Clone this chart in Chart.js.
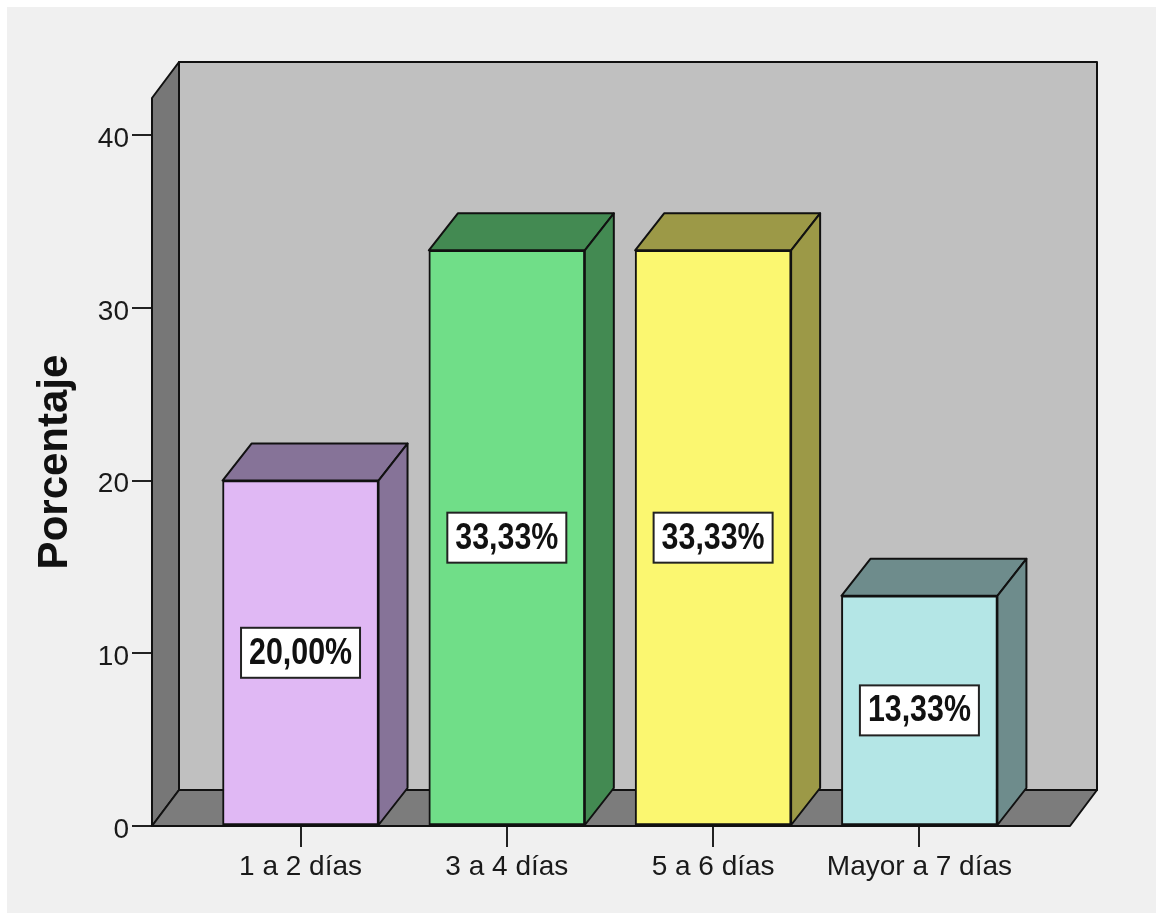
<!DOCTYPE html>
<html>
<head>
<meta charset="utf-8">
<script src="https://cdn.jsdelivr.net/npm/chart.js@4"></script>
<style>
  html, body { margin: 0; padding: 0; background: #ffffff; }
  #wrap { width: 1161px; height: 918px; }
</style>
</head>
<body>
<div id="wrap"><canvas id="myBarChart" width="1161" height="918"></canvas></div>
<script>
// datos del gráfico
const categorias = ['1 a 2 días', '3 a 4 días', '5 a 6 días', 'Mayor a 7 días'];
const porcentajes = [20.00, 33.33, 33.33, 13.33];
const etiquetas = ['20,00%', '33,33%', '33,33%', '13,33%'];
const marcasY = [0, 10, 20, 30, 40];

// colores de cada barra (cara frontal / caras laterales)
const coloresFrente = ['#e0b8f4', '#70de88', '#fbf770', '#b4e6e6'];
const coloresLado = ['#867398', '#438a52', '#9c9947', '#6e8c8c'];

const fuente = '"Liberation Sans", Arial, sans-serif';

// profundidad 3D
const PAR_DX = 27, PAR_DY = -36;   // paredes
const BAR_DX = 29, BAR_DY = -37;   // barras

function poligono(ctx, pts, relleno) {
    ctx.beginPath();
    ctx.moveTo(pts[0][0], pts[0][1]);
    for (let i = 1; i < pts.length; i++) ctx.lineTo(pts[i][0], pts[i][1]);
    ctx.closePath();
    ctx.fillStyle = relleno;
    ctx.fill();
    ctx.lineWidth = 2;
    ctx.lineJoin = 'round';
    ctx.strokeStyle = '#111111';
    ctx.stroke();
}

// fondo, paredes, suelo y caras 3D de las barras
const plugin3D = {
    id: 'plugin3D',
    beforeDraw(chart) {
        const ctx = chart.ctx;
        ctx.save();
        ctx.fillStyle = '#ffffff';
        ctx.fillRect(0, 0, chart.width, chart.height);
        ctx.fillStyle = '#f0f0f0';
        ctx.fillRect(7, 7, chart.width - 12, chart.height - 12);
        ctx.restore();
    },
    beforeDatasetsDraw(chart) {
        const ctx = chart.ctx;
        const a = chart.chartArea;
        ctx.save();
        // pared del fondo
        poligono(ctx, [
            [a.left + PAR_DX, a.top + PAR_DY], [a.right + PAR_DX, a.top + PAR_DY],
            [a.right + PAR_DX, a.bottom + PAR_DY], [a.left + PAR_DX, a.bottom + PAR_DY]
        ], '#c0c0c0');
        // pared lateral
        poligono(ctx, [
            [a.left, a.top], [a.left + PAR_DX, a.top + PAR_DY],
            [a.left + PAR_DX, a.bottom + PAR_DY], [a.left, a.bottom]
        ], '#777777');
        // suelo
        poligono(ctx, [
            [a.left, a.bottom], [a.right, a.bottom],
            [a.right + PAR_DX, a.bottom + PAR_DY], [a.left + PAR_DX, a.bottom + PAR_DY]
        ], '#7c7c7c');

        // caras superior y derecha de cada barra
        chart.getDatasetMeta(0).data.forEach(function (bar, i) {
            const l = bar.x - bar.width / 2, r = bar.x + bar.width / 2;
            const t = bar.y, b = bar.base;
            poligono(ctx, [[l, t], [r, t], [r + BAR_DX, t + BAR_DY], [l + BAR_DX, t + BAR_DY]], coloresLado[i]);
            poligono(ctx, [[r, t], [r + BAR_DX, t + BAR_DY], [r + BAR_DX, b + BAR_DY], [r, b]], coloresLado[i]);
        });
        ctx.restore();
    },
    afterDatasetsDraw(chart) {
        // etiquetas de porcentaje en el centro de cada barra
        const ctx = chart.ctx;
        ctx.save();
        chart.getDatasetMeta(0).data.forEach(function (bar, i) {
            const cy = (bar.y + bar.base) / 2;
            const w = 119, h = 50;
            ctx.fillStyle = '#ffffff';
            ctx.fillRect(bar.x - w / 2, cy - h / 2, w, h);
            ctx.lineWidth = 2;
            ctx.strokeStyle = '#222222';
            ctx.strokeRect(bar.x - w / 2, cy - h / 2, w, h);

            ctx.font = 'bold 36px ' + fuente;
            const ancho = ctx.measureText(etiquetas[i]).width;
            const esc = 103 / ancho;
            ctx.translate(bar.x, cy + 1);
            ctx.scale(esc, 1);
            ctx.fillStyle = '#111111';
            ctx.textAlign = 'center';
            ctx.textBaseline = 'middle';
            ctx.fillText(etiquetas[i], 0, 0);
            ctx.setTransform(1, 0, 0, 1, 0, 0);
        });
        ctx.restore();
    }
};

window.onload = function () {
    const ctx = document.getElementById('myBarChart').getContext('2d');
    new Chart(ctx, {
        type: 'bar',
        data: {
            datasets: [{
                data: porcentajes.map(function (v, i) { return { x: i, y: v }; }),
                backgroundColor: coloresFrente,
                borderColor: '#111111',
                borderWidth: 2,
                borderSkipped: false,
                barThickness: 156,
                clip: false
            }]
        },
        options: {
            responsive: false,
            animation: false,
            layout: { padding: { left: 26, top: 98, right: 91, bottom: 0 } },
            plugins: {
                legend: { display: false },
                tooltip: { enabled: false }
            },
            scales: {
                x: {
                    type: 'linear',
                    offset: false,
                    min: -0.72,
                    max: 3.73,
                    afterBuildTicks: function (s) {
                        s.ticks = categorias.map(function (_, i) { return { value: i }; });
                    },
                    afterFit: function (s) { s.height = 92; },
                    grid: {
                        offset: false,
                        drawOnChartArea: false,
                        drawTicks: true,
                        tickLength: 21,
                        color: '#222222',
                        lineWidth: 2
                    },
                    border: { display: false },
                    ticks: {
                        autoSkip: false,
                        maxRotation: 0,
                        padding: 3,
                        color: '#1a1a1a',
                        font: { family: fuente, size: 28 },
                        callback: function (v) { return categorias[v] !== undefined ? categorias[v] : ''; }
                    }
                },
                y: {
                    min: 0,
                    max: 42.15,
                    afterBuildTicks: function (s) {
                        s.ticks = marcasY.map(function (v) { return { value: v }; });
                    },
                    afterFit: function (s) { s.width = 126; },
                    grid: {
                        drawOnChartArea: false,
                        drawTicks: true,
                        tickLength: 20,
                        color: '#222222',
                        lineWidth: 2
                    },
                    border: { display: false },
                    ticks: {
                        padding: 3,
                        labelOffset: 4,
                        color: '#1a1a1a',
                        font: { family: fuente, size: 28 }
                    },
                    title: {
                        display: true,
                        text: 'Porcentaje',
                        color: '#111111',
                        font: { family: fuente, size: 42, weight: 'bold' }
                    }
                }
            }
        },
        plugins: [plugin3D]
    });
};
</script>
</body>
</html>
